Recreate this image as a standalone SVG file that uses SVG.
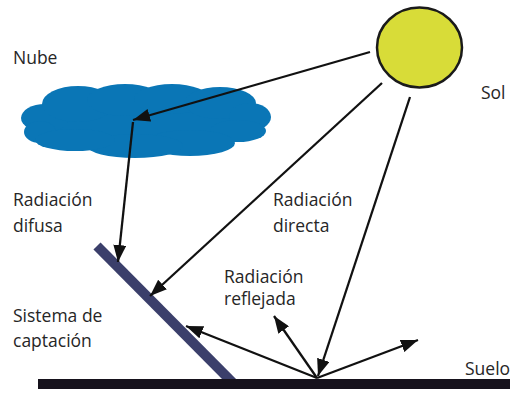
<svg xmlns="http://www.w3.org/2000/svg" width="510" height="395" viewBox="0 0 510 395">
  <style>
    .lbl { font-family: "Open Sans", "Noto Sans", sans-serif; font-size: 17.5px; fill: #262626; }
    .ray { stroke: #111111; stroke-width: 2.3; fill: none; marker-end: url(#head); }
    .cloud { fill: #0a76b6; }
  </style>
  <defs>
    <marker id="head" viewBox="0 0 17 13" refX="17" refY="6.5" markerWidth="17" markerHeight="13" markerUnits="userSpaceOnUse" orient="auto">
      <path d="M0,0 L17,6.5 L0,13 z" fill="#111111"/>
    </marker>
  </defs>

  <rect width="510" height="395" fill="#ffffff"/>

  <!-- cloud built from overlapping puffs -->
  <g id="cloud">
    <ellipse class="cloud" cx="145" cy="122" rx="112" ry="28"/>
    <ellipse class="cloud" cx="45" cy="118" rx="24" ry="14"/>
    <ellipse class="cloud" cx="40" cy="132" rx="16" ry="11"/>
    <ellipse class="cloud" cx="78" cy="104" rx="36" ry="18"/>
    <ellipse class="cloud" cx="125" cy="100" rx="38" ry="16"/>
    <ellipse class="cloud" cx="172" cy="99" rx="38" ry="15"/>
    <ellipse class="cloud" cx="220" cy="103" rx="36" ry="16"/>
    <ellipse class="cloud" cx="250" cy="117" rx="21" ry="14"/>
    <ellipse class="cloud" cx="238" cy="131" rx="28" ry="11"/>
    <ellipse class="cloud" cx="190" cy="143" rx="45" ry="13"/>
    <ellipse class="cloud" cx="135" cy="146" rx="48" ry="12"/>
    <ellipse class="cloud" cx="75" cy="140" rx="40" ry="11"/>
  </g>

  <!-- sun -->
  <g id="sun">
    <ellipse cx="419.5" cy="47.5" rx="42.5" ry="40" fill="#d8dc38" stroke="#1a1a1a" stroke-width="2.5"/>
  </g>

  <!-- collector panel -->
  <g id="panel">
    <line x1="97" y1="246" x2="235" y2="385" stroke="#3b3f6b" stroke-width="10"/>
  </g>

  <!-- ground -->
  <g id="ground">
    <rect x="38" y="379" width="472" height="10" fill="#16121c"/>
  </g>

  <!-- radiation paths -->
  <g id="connectors">
    <line class="ray" x1="370" y1="52" x2="133" y2="120"/>
    <line class="ray" x1="133" y1="122" x2="118" y2="262"/>
    <line class="ray" x1="382" y1="83" x2="150" y2="296"/>
    <line class="ray" x1="410" y1="97" x2="318" y2="376"/>
    <line class="ray" x1="317" y1="378" x2="186" y2="326"/>
    <line class="ray" x1="317" y1="378" x2="274" y2="316"/>
    <line class="ray" x1="317" y1="378" x2="418" y2="340"/>
  </g>

  <!-- labels -->
  <g id="labels">
    <text class="lbl" x="13" y="64">Nube</text>
    <text class="lbl" x="481" y="99">Sol</text>
    <text class="lbl" x="13" y="206">Radiación</text>
    <text class="lbl" x="13" y="232">difusa</text>
    <text class="lbl" x="273" y="206">Radiación</text>
    <text class="lbl" x="273" y="232">directa</text>
    <text class="lbl" x="224" y="283">Radiación</text>
    <text class="lbl" x="224" y="305">reflejada</text>
    <text class="lbl" x="13" y="322">Sistema de</text>
    <text class="lbl" x="13" y="347">captación</text>
    <text class="lbl" x="465" y="375">Suelo</text>
  </g>
</svg>
